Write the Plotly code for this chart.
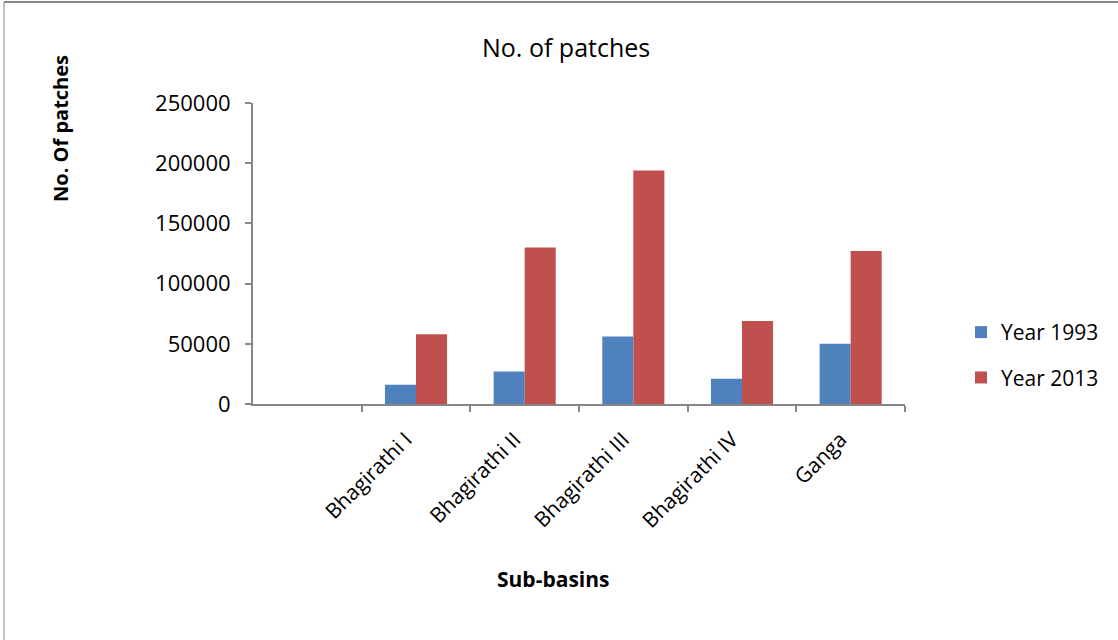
import plotly.graph_objects as go

# Sub-basin patch counts for the two survey years
sub_basins = ["Bhagirathi I", "Bhagirathi II", "Bhagirathi III", "Bhagirathi IV", "Ganga"]
patches_1993 = [16000, 27000, 56000, 21000, 50000]
patches_2013 = [58000, 130000, 194000, 69000, 127000]
y_ticks = [0, 50000, 100000, 150000, 200000, 250000]

BLUE = "#4F81BD"
RED = "#C0504D"
AXIS = "#868686"
FONT = "Open Sans"

W, H = 1118, 640
L, R, T, B = 253, 213, 103, 236

fig = go.Figure()
fig.add_trace(go.Bar(name="Year 1993", x=sub_basins, y=patches_1993, legendgroup="y1993",
                     marker=dict(color=BLUE, line=dict(width=0))))
fig.add_trace(go.Bar(name="Year 2013", x=sub_basins, y=patches_2013, legendgroup="y2013",
                     marker=dict(color=RED, line=dict(width=0))))

pw = W - L - R
ph = H - T - B


def px_x(p):
    return (p - L) / pw


def px_y(p):
    return (H - B - p) / ph


fig.update_layout(
    width=W, height=H,
    margin=dict(l=L, r=R, t=T, b=B, pad=0),
    paper_bgcolor="white", plot_bgcolor="white",
    barmode="group", bargap=0.4286, bargroupgap=0,
    font=dict(family=FONT, color="#000000", size=21),
    showlegend=True,
    legend=dict(x=px_x(961), y=px_y(312), xanchor="left", yanchor="top",
                font=dict(family=FONT, size=21, color="#000"),
                itemsizing="constant", tracegroupgap=15, bgcolor="rgba(0,0,0,0)"),
    xaxis=dict(
        type="category", range=[-1.5, 4.5], tickson="boundaries",
        showline=True, linecolor=AXIS, linewidth=2,
        ticks="outside", ticklen=6, tickcolor=AXIS, tickwidth=1.5,
        tickangle=-45, tickfont=dict(family=FONT, size=21, color="#000"),
        ticklabelstandoff=13, ticklabelshift=-10,
        showgrid=False, zeroline=False,
    ),
    yaxis=dict(
        range=[0, 250000], tickvals=y_ticks, ticktext=[str(v) for v in y_ticks],
        showline=True, linecolor=AXIS, linewidth=2,
        ticks="outside", ticklen=6, tickcolor=AXIS, tickwidth=1.5,
        tickfont=dict(family=FONT, size=22, color="#000"),
        ticklabelstandoff=10,
        showgrid=False, zeroline=False,
    ),
    annotations=[
        dict(text="No. of patches", x=px_x(566), y=px_y(47), xref="paper", yref="paper",
             xanchor="center", yanchor="middle",
             showarrow=False, font=dict(family=FONT, size=25, color="#000")),
        dict(text="<b>Sub-basins</b>", x=px_x(553), y=px_y(579), xref="paper", yref="paper",
             xanchor="center", yanchor="middle",
             showarrow=False, font=dict(family=FONT, size=21, color="#000")),
        dict(text="<b>No. Of patches</b>", x=px_x(60), y=px_y(129), xref="paper", yref="paper",
             xanchor="center", yanchor="middle",
             showarrow=False, textangle=-90, font=dict(family=FONT, size=20, color="#000")),
    ],
    shapes=[
        dict(type="line", xref="paper", yref="paper", x0=px_x(4), x1=px_x(W), y0=px_y(2), y1=px_y(2),
             line=dict(color="#888888", width=2)),
        dict(type="line", xref="paper", yref="paper", x0=px_x(4), x1=px_x(4), y0=px_y(2), y1=px_y(H),
             line=dict(color="#888888", width=1)),
    ],
)

fig.write_html("out.html")
